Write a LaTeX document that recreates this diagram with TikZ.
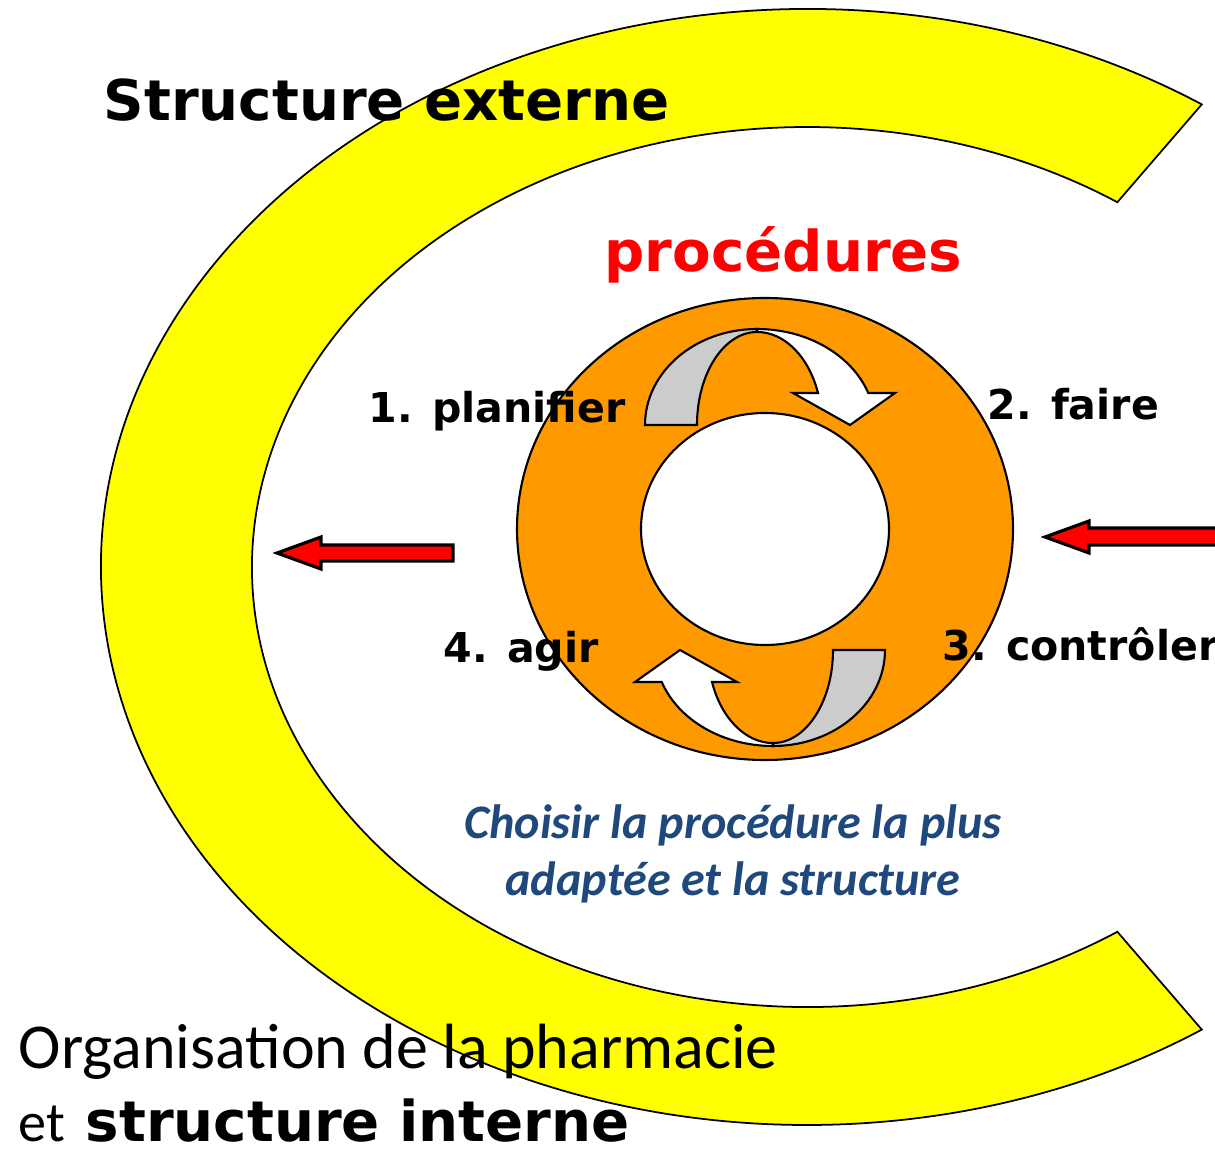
\documentclass[tikz,border=0pt]{standalone}
\usepackage{fontspec}
\usepackage{xcolor}
\usepackage{tikz}
\usetikzlibrary{positioning,calc}
\newfontfamily\dejavu{DejaVu Sans}
\newfontfamily\carlito{Carlito}
\definecolor{cyellow}{HTML}{FFFF00}
\definecolor{corange}{HTML}{FF9900}
\definecolor{cgray}{HTML}{CCCCCC}
\definecolor{cblue}{HTML}{1F497D}

\begin{document}
\begin{tikzpicture}[
    band/.style={draw, fill=cyellow, line width=0.5pt},
    ring/.style={draw, fill=corange, line width=0.6pt},
    backarc/.style={draw, fill=cgray, line width=0.6pt},
    frontarc/.style={draw, fill=white, line width=0.6pt},
    redarrow/.style={draw, fill=red, line width=0.9pt, line join=miter},
    heading/.style={font=\dejavu\bfseries\fontsize{16}{19}\selectfont, anchor=base west, inner sep=0pt},
    stagelabel/.style={font=\dejavu\bfseries\fontsize{11.7}{14}\selectfont, anchor=base west, inner sep=0pt},
    note/.style={font=\carlito\bfseries\itshape\fontsize{13.7}{16}\selectfont, text=cblue, anchor=base, inner sep=0pt},
    plain/.style={font=\carlito\fontsize{18.2}{21}\selectfont, anchor=base west, inner sep=0pt}
]
    \useasboundingbox (0,0) rectangle (12.15,-11.49);

    \coordinate (cc) at (8.07,-5.67);
    \coordinate (oc) at (7.65,-5.29);
    \coordinate (ac) at (7.65,-5.375);

    \draw[band] ([shift={(56:7.06cm and 5.58cm)}]cc)
        arc[start angle=56, end angle=304, x radius=7.06cm, y radius=5.58cm]
        -- ([shift={(304:5.55cm and 4.40cm)}]cc)
        arc[start angle=304, end angle=56, x radius=5.55cm, y radius=4.40cm] -- cycle;

    \draw[ring] (oc) ellipse[x radius=2.48cm, y radius=2.31cm];
    \draw[frontarc] (oc) ellipse[x radius=1.24cm, y radius=1.16cm];

    \foreach \a in {0,180} {
        \begin{scope}[rotate around={\a:(ac)}]
            \draw[backarc] (6.45,-4.25)
                arc[start angle=180, end angle=90, x radius=1.12cm, y radius=0.96cm]
                -- (7.57,-3.32)
                arc[start angle=90, end angle=180, x radius=0.60cm, y radius=0.93cm] -- cycle;
            \draw[frontarc] (7.57,-3.29)
                arc[start angle=90, end angle=19.5, x radius=1.18cm, y radius=0.96cm]
                -- (8.95,-3.93) -- (8.50,-4.25) -- (7.93,-3.93) -- (8.18,-3.93)
                arc[start angle=20.1, end angle=90, x radius=0.65cm, y radius=0.93cm] -- cycle;
        \end{scope}
    }

    \draw[redarrow] (2.77,-5.53) -- (3.21,-5.37) -- (3.21,-5.45) -- (4.53,-5.45)
        -- (4.53,-5.61) -- (3.21,-5.61) -- (3.21,-5.69) -- cycle;
    \draw[redarrow] (10.45,-5.37) -- (10.89,-5.21) -- (10.89,-5.28) -- (12.40,-5.28)
        -- (12.40,-5.45) -- (10.89,-5.45) -- (10.89,-5.53) -- cycle;

    \node[heading] (externe) at (1.03,-1.21) {Structure externe};
    \node[heading, text=red] (proc) at (6.04,-2.72) {procédures};

    \node[stagelabel] (plan) at (3.68,-4.22) {1. planifier};
    \node[stagelabel] (faire) at (9.87,-4.19) {2. faire};
    \node[stagelabel] (ctrl) at (9.42,-6.60) {3. contrôler};
    \node[stagelabel] (agir) at (4.43,-6.62) {4. agir};

    \node[note] (choix) at (7.33,-8.38) {Choisir la procédure la plus};
    \node[note] (choixb) at (7.33,-8.95) {adaptée et la structure};

    \node[plain] (orga) at (0.18,-10.68) {Organisation de la pharmacie};
    \node[plain, font=\carlito\fontsize{16}{19}\selectfont, text depth=0pt] (et) at (0.18,-11.41) {et};
    \node[heading, text depth=0pt] (interne) at (0.85,-11.41) {structure interne};
\end{tikzpicture}
\end{document}
